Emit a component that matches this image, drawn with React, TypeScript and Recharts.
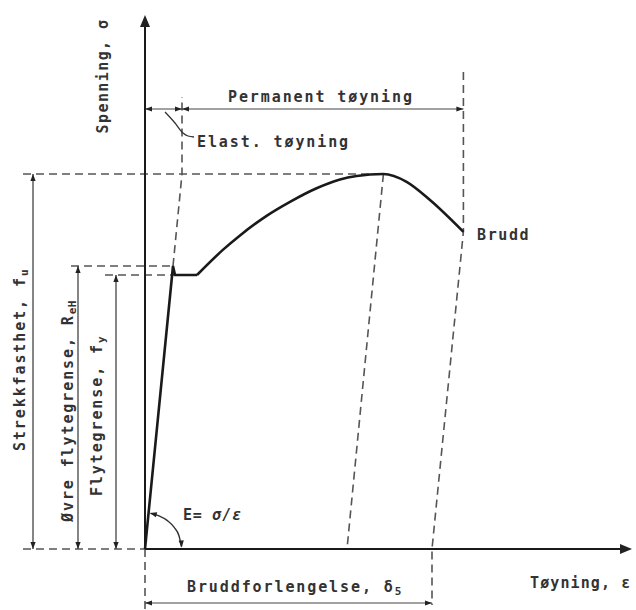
import React from 'react';
import { ComposedChart, Line, Scatter, XAxis, YAxis } from 'recharts';

// Units: strain (x) and stress (y) in normalized diagram units
const elasticCurve = [
  { x: 0, y: 0 },
  { x: 7, y: 70.75 },
  { x: 7.5, y: 68.5 },
  { x: 13, y: 68.5 },
];
const hardeningCurve = [
  { x: 13, y: 68.5 },
  { x: 19.6, y: 74.9 },
  { x: 23.75, y: 78.4 },
  { x: 30.4, y: 83.3 },
  { x: 36.25, y: 86.8 },
  { x: 42.9, y: 90.2 },
  { x: 48.75, y: 92.4 },
  { x: 52.9, y: 93.25 },
  { x: 59.6, y: 93.75 },
  { x: 65.4, y: 91.8 },
  { x: 71.25, y: 87.25 },
  { x: 79.6, y: 79.3 },
];
const yAxisLine = [{ x: 0, y: 0 }, { x: 0, y: 131 }];
const xAxisLine = [{ x: 0, y: 0 }, { x: 119.5, y: 0 }];

const fuGuide = [{ x: -30.5, y: 93.75 }, { x: 59.6, y: 93.75 }];
const rehGuide = [{ x: -18.5, y: 70.75 }, { x: 7, y: 70.75 }];
const fyGuide = [{ x: -10, y: 68.5 }, { x: 7.5, y: 68.5 }];
const baseGuide = [{ x: -30.5, y: 0 }, { x: 0, y: 0 }];
const elastGuide = [{ x: 7, y: 70.75 }, { x: 9.25, y: 93.75 }, { x: 9.25, y: 113 }];
const maxUnload = [{ x: 59.6, y: 93.75 }, { x: 50.5, y: 0 }];
const breakUnload = [{ x: 79.6, y: 119.25 }, { x: 79.6, y: 79.3 }, { x: 71.75, y: 0 }, { x: 71.75, y: -14 }];
const originDrop = [{ x: 0, y: 0 }, { x: 0, y: -15 }];

const fuDim = [{ x: -28, y: 0 }, { x: -28, y: 93.75 }];
const rehDim = [{ x: -16.75, y: 0 }, { x: -16.75, y: 70.75 }];
const fyDim = [{ x: -7.25, y: 0 }, { x: -7.25, y: 68.5 }];
const elastDim = [{ x: 0, y: 110 }, { x: 9.25, y: 110 }];
const permDim = [{ x: 9.25, y: 110 }, { x: 79.6, y: 110 }];
const elongDim = [{ x: 0, y: -13.5 }, { x: 71.75, y: -13.5 }];
const elastLeader = [
  { x: 5, y: 109.25 },
  { x: 7.5, y: 106.5 },
  { x: 9.5, y: 104 },
  { x: 10.75, y: 103.25 },
  { x: 12.25, y: 103 },
];
const modulusArc = [
  { x: 1.4, y: 8.9 },
  { x: 3.5, y: 8.3 },
  { x: 5.6, y: 7.1 },
  { x: 7.3, y: 5.4 },
  { x: 8.5, y: 3.3 },
  { x: 9.1, y: 0.6 },
];

const arrowHeads = [
  { x: 0, y: 133.5, angle: -90, big: 1 },
  { x: 121.75, y: 0, angle: 0, big: 1 },
  { x: -28, y: 93.75, angle: -90, big: 0 },
  { x: -28, y: 0, angle: 90, big: 0 },
  { x: -16.75, y: 70.75, angle: -90, big: 0 },
  { x: -16.75, y: 0, angle: 90, big: 0 },
  { x: -7.25, y: 68.5, angle: -90, big: 0 },
  { x: -7.25, y: 0, angle: 90, big: 0 },
  { x: 0, y: 110, angle: 180, big: 0 },
  { x: 9.25, y: 110, angle: 0, big: 0 },
  { x: 9.25, y: 110, angle: 180, big: 0 },
  { x: 79.6, y: 110, angle: 0, big: 0 },
  { x: 0, y: -13.5, angle: 180, big: 0 },
  { x: 71.75, y: -13.5, angle: 0, big: 0 },
  { x: 1.2, y: 9, angle: 195, big: 0 },
  { x: 9.2, y: 0.4, angle: 85, big: 0 },
];

const labels = [
  { x: -10.5, y: 118.25, text: 'Spenning, σ', sub: '', rotate: -90, anchor: 'middle', ls: 1.4 },
  { x: 20.75, y: 113, text: 'Permanent tøyning', sub: '', rotate: 0, anchor: 'start', ls: 1.9 },
  { x: 13, y: 101.75, text: 'Elast. tøyning', sub: '', rotate: 0, anchor: 'start', ls: 1.9 },
  { x: 83, y: 78.5, text: 'Brudd', sub: '', rotate: 0, anchor: 'start', ls: 1.6 },
  { x: 9.5, y: 8.5, text: 'E= ', sub: '', italic: 'σ/ε', rotate: 0, anchor: 'start', ls: 0.8 },
  { x: 10.5, y: -9.5, text: 'Bruddforlengelse, δ', sub: '5', rotate: 0, anchor: 'start', ls: 1.9 },
  { x: 96.25, y: -8.5, text: 'Tøyning, ε', sub: '', rotate: 0, anchor: 'start', ls: 1.1 },
  { x: -31.25, y: 47.25, text: 'Strekkfasthet, f', sub: 'u', rotate: -90, anchor: 'middle', ls: 1.9 },
  { x: -19.25, y: 34.5, text: 'Øvre flytegrense, R', sub: 'eH', rotate: -90, anchor: 'middle', ls: 1.9 },
  { x: -12, y: 33.25, text: 'Flytegrense, f', sub: 'y', rotate: -90, anchor: 'middle', ls: 1.9 },
];

const FONT = '"DejaVu Sans Mono", "Liberation Mono", monospace';

const LabelShape = (props: any) => {
  const { cx, cy, payload } = props;
  const p = payload;
  return (
    <text
      x={cx}
      y={cy}
      transform={p.rotate ? `rotate(${p.rotate} ${cx} ${cy})` : undefined}
      textAnchor={p.anchor}
      dominantBaseline="central"
      fontFamily={FONT}
      fontSize={15}
      fontWeight="bold"
      letterSpacing={p.ls}
      fill="#333"
    >
      {p.text}
      {p.italic ? <tspan fontStyle="italic">{p.italic}</tspan> : null}
      {p.sub ? (
        <tspan dy={4} fontSize={11} letterSpacing={0.5}>
          {p.sub}
        </tspan>
      ) : null}
    </text>
  );
};

const ArrowShape = (props: any) => {
  const { cx, cy, payload } = props;
  const big = payload.big;
  const len = big ? 12 : 7;
  const half = big ? 5 : 2.6;
  return (
    <polygon
      points={`0,0 ${-len},${-half} ${-len},${half}`}
      transform={`translate(${cx} ${cy}) rotate(${payload.angle})`}
      fill="#222"
    />
  );
};

const solid = (data: any[], key: string, width: number, color = '#1a1a1a', type: any = 'linear') => (
  <Line
    key={key}
    data={data}
    dataKey="y"
    type={type}
    stroke={color}
    strokeWidth={width}
    dot={false}
    activeDot={false}
    isAnimationActive={false}
  />
);

const dashed = (data: any[], key: string) => (
  <Line
    key={key}
    data={data}
    dataKey="y"
    type="linear"
    stroke="#555"
    strokeWidth={1.6}
    strokeDasharray="8 5"
    dot={false}
    activeDot={false}
    isAnimationActive={false}
  />
);

export default function App() {
  return (
    <div style={{ position: 'absolute', left: 0, top: 0, width: 636, height: 610, background: '#fff' }}>
      <ComposedChart width={636} height={610} margin={{ top: 0, right: 0, bottom: 0, left: 0 }}>
        <XAxis dataKey="x" type="number" domain={[-36.25, 122.75]} hide allowDataOverflow />
        <YAxis dataKey="y" type="number" domain={[-15.25, 137.25]} hide allowDataOverflow />
        {dashed(fuGuide, 'fuG')}
        {dashed(rehGuide, 'rehG')}
        {dashed(fyGuide, 'fyG')}
        {dashed(baseGuide, 'baseG')}
        {dashed(elastGuide, 'elG')}
        {dashed(maxUnload, 'maxU')}
        {dashed(breakUnload, 'brU')}
        {dashed(originDrop, 'orD')}
        {solid(fuDim, 'fuD', 1.3, '#444')}
        {solid(rehDim, 'rehD', 1.3, '#444')}
        {solid(fyDim, 'fyD', 1.3, '#444')}
        {solid(elastDim, 'elD', 1.2, '#444')}
        {solid(permDim, 'peD', 1.2, '#444')}
        {solid(elongDim, 'elgD', 1.2, '#444')}
        {solid(elastLeader, 'elL', 1.3, '#333', 'monotone')}
        {solid(modulusArc, 'arc', 1.4, '#333', 'monotone')}
        {solid(yAxisLine, 'yA', 2)}
        {solid(xAxisLine, 'xA', 2)}
        {solid(elasticCurve, 'elC', 2.6)}
        {solid(hardeningCurve, 'hC', 2.6, '#1a1a1a', 'monotone')}
        <Scatter data={arrowHeads} dataKey="y" shape={ArrowShape} isAnimationActive={false} />
        <Scatter data={labels} dataKey="y" shape={LabelShape} isAnimationActive={false} />
      </ComposedChart>
    </div>
  );
}
